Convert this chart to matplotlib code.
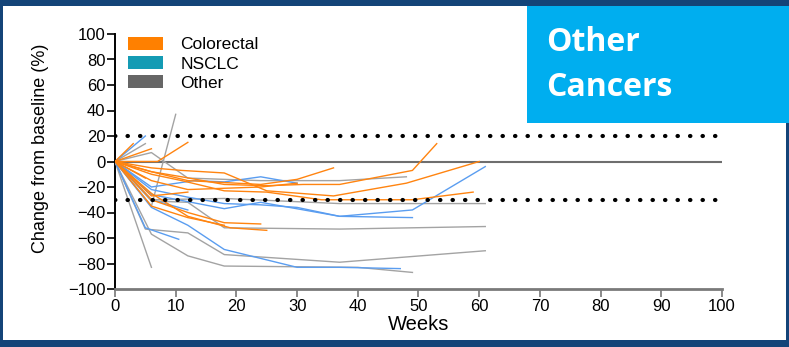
import matplotlib.pyplot as plt
from matplotlib.patches import Patch, Rectangle

# Tumour change from baseline per patient, grouped by tumour type
colorectal_weeks = [
    [0, 6, 11, 18, 25, 31, 37, 49, 53],
    [0, 6, 11, 18, 25, 36, 48, 60],
    [0, 6, 11, 18, 25, 34, 49, 59],
    [0, 7, 12],
    [0, 3],
    [0, 6],
    [0, 6, 12, 24, 30, 36],
    [0, 6, 12, 18, 24],
    [0, 6, 12, 19, 25],
    [0, 6, 12],
    [0, 5],
    [0, 6, 12, 18],
    [0, 6, 12, 24, 30],
]
colorectal_change = [
    [0, -8, -12, -18, -19, -18, -18, -7, 14],
    [0, -5, -7, -9, -23, -27, -17, 0],
    [0, -10, -15, -23, -24, -30, -30, -24],
    [0, 0, 15],
    [0, 14],
    [0, 10],
    [0, -8, -15, -18, -14, -5],
    [0, -30, -40, -48, -49],
    [0, -25, -43, -52, -54],
    [0, -27, -24],
    [0, -13],
    [0, -35, -44, -50],
    [0, -15, -22, -20, -17],
]

nsclc_weeks = [
    [0, 5],
    [0, 6, 12, 18, 24, 30, 37, 49, 61],
    [0, 6, 13, 18, 24, 30],
    [0, 6, 18, 24, 37, 49],
    [0, 5, 10.5],
    [0, 6, 12, 18, 30, 37, 47],
    [0, 6, 12],
]
nsclc_change = [
    [0, 20],
    [0, -22, -28, -33, -34, -36, -43, -38, -4],
    [0, -20, -15, -16, -12, -17],
    [0, -26, -37, -32, -43, -44],
    [0, -52, -61],
    [0, -36, -50, -69, -83, -83, -84],
    [0, -30, -38],
]

other_weeks = [
    [0, 5],
    [0, 6, 10],
    [0, 6],
    [0, 6, 12, 24, 37, 48],
    [0, 6, 18, 37, 61],
    [0, 6, 12, 18, 37, 61],
    [0, 5, 12, 18, 37, 61],
    [0, 6, 12, 18, 40, 49],
]
other_change = [
    [0, 14],
    [0, -35, 37],
    [0, -83],
    [0, 7, -13, -15, -15, -12],
    [0, -30, -29, -33, -33],
    [0, -31, -32, -52, -53, -51],
    [0, -53, -56, -73, -79, -70],
    [0, -57, -74, -82, -83, -87],
]

groups = ["Colorectal", "NSCLC", "Other"]
line_colors = {"Colorectal": "#ff8410", "NSCLC": "#5a9df0", "Other": "#a3a3a3"}
patch_colors = {"Colorectal": "#ff8000", "NSCLC": "#149bb4", "Other": "#666666"}
series = {
    "Other": (other_weeks, other_change),
    "NSCLC": (nsclc_weeks, nsclc_change),
    "Colorectal": (colorectal_weeks, colorectal_change),
}

plt.rcParams["font.family"] = ["Liberation Sans", "DejaVu Sans"]

fig = plt.figure(figsize=(7.89, 3.47), dpi=100)
fig.patch.set_facecolor("#144478")
fig.add_artist(Rectangle((3 / 789, 7 / 347), 783 / 789, 334 / 347,
                         transform=fig.transFigure, facecolor="white",
                         edgecolor="none", zorder=0))

ax = fig.add_axes([115 / 789, 58 / 347, 607 / 789, 255 / 347])
ax.set_facecolor("none")

for name in ["Other", "NSCLC", "Colorectal"]:
    weeks, change = series[name]
    for w, c in zip(weeks, change):
        ax.plot(w, c, color=line_colors[name], lw=1.0, zorder=3)

ax.axhline(0, color="#6e6e6e", lw=1.5, zorder=2)
for ref in (20, -30):
    ax.plot([0, 100], [ref, ref], color="black", lw=3,
            linestyle=(0, (0.1, 2.9)), dash_capstyle="round", zorder=4)

ax.set_xlim(0, 100)
ax.set_ylim(-100, 100)
ax.set_xticks(range(0, 101, 10))
ax.set_yticks(range(-100, 101, 20))
ax.tick_params(labelsize=12, length=6, width=1.2, pad=1)
ax.tick_params(axis="x", colors="#777777", labelcolor="black")
for side in ("top", "right"):
    ax.spines[side].set_visible(False)
ax.spines["left"].set_linewidth(1.4)
ax.spines["bottom"].set_linewidth(2)
ax.spines["bottom"].set_color("#7a7a7a")

ax.set_xlabel("Weeks", fontsize=14.5, labelpad=1)
ax.set_ylabel("Change from baseline (%)", fontsize=13)
ax.yaxis.set_label_coords(-0.108, 0.55)

handles = [Patch(facecolor=patch_colors[g], edgecolor="none", label=g) for g in groups]
ax.legend(handles=handles, loc="upper left", bbox_to_anchor=(-0.004, 1.05),
          frameon=False, fontsize=12.5, handlelength=2.0, handleheight=0.75,
          labelspacing=0.22, handletextpad=1.0)

fig.add_artist(Rectangle((527 / 789, 224 / 347), 262 / 789, 117 / 347,
                         transform=fig.transFigure, facecolor="#00aeef",
                         edgecolor="none", zorder=10))
fig.text(546 / 789, 1 - 26 / 347, "Other\nCancers", color="white",
         fontsize=23, fontweight="bold", family=["Open Sans", "DejaVu Sans"],
         linespacing=1.5, va="top", ha="left", zorder=11)

fig.savefig("out.png", dpi=100, facecolor=fig.get_facecolor())
